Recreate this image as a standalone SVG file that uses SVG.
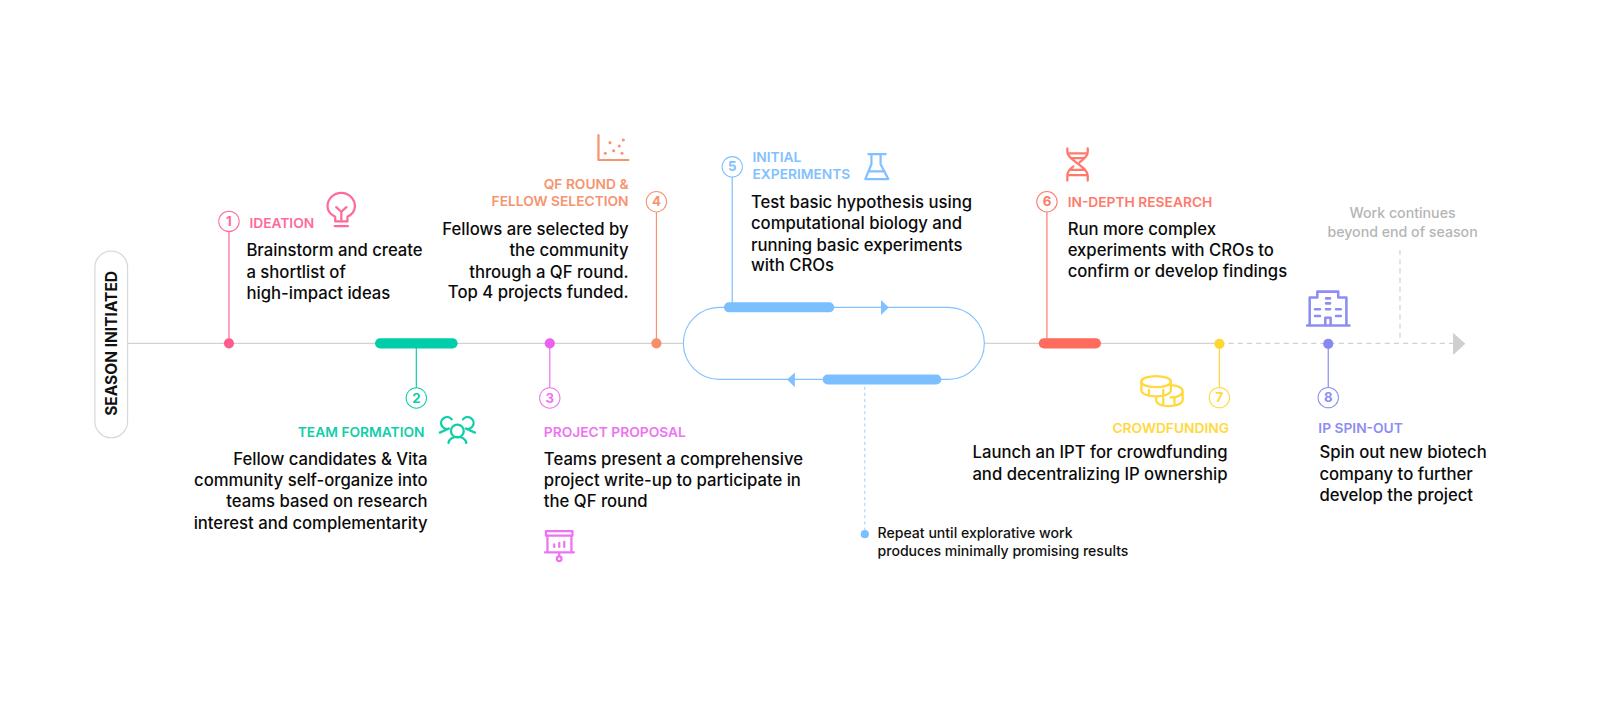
<svg xmlns="http://www.w3.org/2000/svg" width="1600" height="704" viewBox="0 0 1600 704">
<style>
text{font-family:Inter,"Liberation Sans",sans-serif}
.b{font-size:16.350px;fill:#0b0b0b;font-weight:500;stroke:none}
.h{font-size:13.500px;font-weight:600;stroke:none}
.n{font-size:13px;font-weight:700;text-anchor:middle;stroke:none}
.e{text-anchor:end}
.c{fill:#fff;stroke-width:1}
.i{fill:none;stroke-width:2.200;stroke-linecap:round;stroke-linejoin:round}
.v{stroke-width:1.200;fill:none}
</style>
<rect width="1600" height="704" fill="#fff"/>
<g id="diagram" transform="scale(1.0204)">
<g id="connectors" fill="none">
<path d="M125 336.500H670M965 336.500H1195" stroke="#d2d2d2" stroke-width="1.200"/>
<path d="M1195 336.500H1424M1372 245V331" stroke="#d2d2d2" stroke-width="1.200" stroke-dasharray="5 4"/>
<path d="M1424 326L1436 337L1424 348Z" fill="#cfcfcf"/>
<rect x="669.700" y="301.200" width="295" height="70.600" rx="35.300" stroke="#82c1ff" stroke-width="1.100"/>
<path d="M863.400 294L871 301.300L863.400 308.700Z" fill="#82c1ff"/>
<path d="M779 365L771.300 372L779 379.400Z" fill="#82c1ff"/>
<path d="M847.500 373V523" stroke="#9fcfff" stroke-width="1" stroke-dasharray="3 3"/>
</g>
<g id="season"><rect x="93" y="246" width="32" height="183" rx="16" fill="#fff" stroke="#d8d8d8" stroke-width="1.200"/><text transform="translate(114.300 336.500) rotate(-90)" text-anchor="middle" style="font-size:15.200px;font-weight:700" fill="#111">SEASON INITIATED</text></g>
<g id="n1" stroke="#ff6b98"><path class="v" d="M224.400 227V336"/><circle cx="224.400" cy="336.500" r="5" fill="#ff5c8d" stroke="none"/><circle class="c" cx="224.400" cy="217" r="10"/><text class="n" x="224.400" y="221.500" fill="#ff6b98">1</text><text class="h" x="244.400" y="223" fill="#ff6b98">IDEATION</text>
<path class="i" d="M328.500 217V212.500C324 210 321 206.500 321 202.300A13.400 13.400 0 0 1 347.800 202.300C347.800 206.500 345 210 340.500 212.500V217ZM329.500 203L334.500 207.500L339.500 203M334.500 207.500V217M328 221.500H341"/>
<text class="b" x="241.500" y="251">Brainstorm and create</text><text class="b" x="241.500" y="272">a shortlist of</text><text class="b" x="241.500" y="293">high-impact ideas</text></g>
<g id="n2" stroke="#0fcfa8"><path class="v" d="M408 340V380"/><rect x="367.500" y="331.500" width="81" height="10" rx="5" fill="#00cdaa" stroke="none"/><circle class="c" cx="408" cy="390" r="10"/><text class="n" x="408" y="394.500" fill="#0fcfa8">2</text><text class="h e" x="416" y="428" fill="#10cfa8">TEAM FORMATION</text>
<g class="i"><circle cx="448.200" cy="422.400" r="6.300"/><path d="M439.500 434C440.500 430 444 428.200 448.200 428.200C452.500 428.200 456 430 457 434M442.700 411A5.800 5.800 0 1 0 440 420L431 424M453.700 411A5.800 5.800 0 1 1 456.400 420L465.400 424"/></g>
<text class="b e" x="419" y="455.500">Fellow candidates &amp; Vita</text><text class="b e" x="419" y="476">community self-organize into</text><text class="b e" x="419" y="497">teams based on research</text><text class="b e" x="419" y="518">interest and complementarity</text></g>
<g id="n3" stroke="#ee73f2"><path class="v" d="M538.800 337V380"/><circle cx="538.800" cy="336.500" r="5" fill="#ea60f0" stroke="none"/><circle class="c" cx="538.800" cy="390" r="10"/><text class="n" x="538.800" y="394.500" fill="#ee73f2">3</text><text class="h" x="533" y="428" fill="#ee73f2">PROJECT PROPOSAL</text>
<text class="b" x="533" y="455.500">Teams present a comprehensive</text><text class="b" x="533" y="476">project write-up to participate in</text><text class="b" x="533" y="497">the QF round</text>
<g class="i"><rect x="535" y="520.500" width="26" height="4.500"/><path d="M536.500 525V541.300H560V525M534 541.300H562.400M548 541.300V545M543.200 536V533.500M548.100 536V532M553 536V531"/><circle cx="548" cy="547.500" r="2.300"/></g></g>
<g id="n4" stroke="#f79470"><path class="v" d="M643.300 208V336"/><circle cx="643.300" cy="336.500" r="5" fill="#f5906a" stroke="none"/><circle class="c" cx="643.300" cy="197.700" r="10"/><text class="n" x="643.300" y="202.200" fill="#f79470">4</text><text class="h e" x="616" y="185.500" fill="#f79470">QF ROUND &amp;</text><text class="h e" x="616" y="202" fill="#f79470">FELLOW SELECTION</text>
<path class="i" d="M586.500 132.500V156.800H615.800" stroke-linecap="butt"/><g fill="#f79470" stroke="none"><circle cx="593.200" cy="150.200" r="1.500"/><circle cx="597.800" cy="139.800" r="1.500"/><circle cx="601.400" cy="147.700" r="1.500"/><circle cx="606.900" cy="143.100" r="1.500"/><circle cx="609.600" cy="150.200" r="1.500"/><circle cx="610.900" cy="137.200" r="1.500"/></g>
<text class="b e" x="616" y="230.500">Fellows are selected by</text><text class="b e" x="616" y="251">the community</text><text class="b e" x="616" y="272">through a QF round.</text><text class="b e" x="616" y="292.500">Top 4 projects funded.</text></g>
<g id="n5" stroke="#82c1ff"><path class="v" d="M717.600 173V297"/><rect x="709.500" y="296.300" width="108" height="9.800" rx="4.900" fill="#7cbfff" stroke="none"/><circle class="c" cx="717.600" cy="163.500" r="10"/><text class="n" x="717.600" y="168" fill="#82c1ff">5</text><text class="h" x="737.500" y="158.400" fill="#82c1ff">INITIAL</text><text class="h" x="737.500" y="175.400" fill="#82c1ff">EXPERIMENTS</text>
<path class="i" d="M851 151H868M854 151V161L848 175.500H870.500L863 161V151M851 168H867"/>
<text class="b" x="736" y="203.500">Test basic hypothesis using</text><text class="b" x="736" y="224.500">computational biology and</text><text class="b" x="736" y="245.500">running basic experiments</text><text class="b" x="736" y="266">with CROs</text></g>
<g id="repeat"><rect x="806.200" y="367" width="116.300" height="9.800" rx="4.900" fill="#7cbfff"/><circle cx="847.500" cy="523.500" r="4" fill="#7cbfff"/><text x="860" y="527.500" style="font-size:13.800px;font-weight:500" fill="#111">Repeat until explorative work</text><text x="860" y="544.500" style="font-size:13.800px;font-weight:500" fill="#111">produces minimally promising results</text></g>
<g id="n6" stroke="#ff7a6c"><path class="v" d="M1026 208V332"/><rect x="1018" y="331.500" width="61" height="10" rx="5" fill="#ff6b5d" stroke="none"/><circle class="c" cx="1026" cy="197.700" r="10"/><text class="n" x="1026" y="202.200" fill="#ff7a6c">6</text><text class="h" x="1046.300" y="203.200" fill="#ff7a6c">IN-DEPTH RESEARCH</text>
<path class="i" d="M1046 145.500V149C1046 157 1066 163 1066 172V177M1066 145.500V149C1066 153 1061 157 1058 159M1046 177V172C1046 168 1049 165 1052 163M1047 150.300H1065M1049.500 155H1062.500M1049.500 166.500H1062.500M1047 171.600H1065"/>
<text class="b" x="1046.300" y="230.500">Run more complex</text><text class="b" x="1046.300" y="251">experiments with CROs to</text><text class="b" x="1046.300" y="271.500">confirm or develop findings</text></g>
<g id="n7" stroke="#ffd93d"><path class="v" d="M1195 337V380"/><circle cx="1195" cy="337" r="5" fill="#ffd633" stroke="none"/><circle class="c" cx="1195" cy="389.700" r="10"/><text class="n" x="1195" y="394.200" fill="#ffd93d">7</text><text class="h e" x="1204.500" y="424" fill="#ffd93d">CROWDFUNDING</text>
<g class="i"><ellipse cx="1133" cy="374" rx="14.500" ry="5.500"/><path d="M1118.500 374V382.500C1118.500 386 1125 388.500 1133 388.500C1141 388.500 1147.500 386 1147.500 382.500V374M1126 388V382M1140 388V382M1147 377.500C1154 378 1159 380 1159 383.500V392C1159 395.500 1153 398 1145.500 398C1138 398 1133 395.500 1133 392V388.500M1159 383.500C1159 387 1154 389.500 1147 389.500M1140 397.500V390M1151 397V390"/></g>
<text class="b e" x="1203" y="449">Launch an IPT for crowdfunding</text><text class="b e" x="1203" y="470">and decentralizing IP ownership</text></g>
<g id="n8" stroke="#8d8df5"><path class="v" d="M1301.700 337V380"/><circle cx="1301.700" cy="337" r="5" fill="#8888f2" stroke="none"/><circle class="c" cx="1301.700" cy="389.700" r="10"/><text class="n" x="1301.700" y="394.200" fill="#8d8df5">8</text><text class="h" x="1292" y="424" fill="#8d8df5">IP SPIN-OUT</text>
<g class="i" style="stroke-width:2.500"><path d="M1281 319H1322.500M1283.500 318.500V291.500H1291V285.800H1311.500V291.500H1319.500V318.500M1298.800 318.500V311.300H1304V318.500M1288.700 303.100H1293.600M1299.500 303.100H1303.500M1309.300 303.100H1314M1288.700 309.700H1293.600M1309.300 309.700H1314M1299.500 292.400H1303.500M1299.500 297.300H1303.500"/></g>
<text class="b" x="1293" y="449">Spin out new biotech</text><text class="b" x="1293" y="470">company to further</text><text class="b" x="1293" y="491">develop the project</text></g>
<g id="continues"><text x="1374.500" y="214" text-anchor="middle" style="font-size:13.900px;font-weight:500" fill="#b5b5b5">Work continues</text><text x="1374.500" y="232" text-anchor="middle" style="font-size:13.900px;font-weight:500" fill="#b5b5b5">beyond end of season</text></g>
</g>
</svg>
